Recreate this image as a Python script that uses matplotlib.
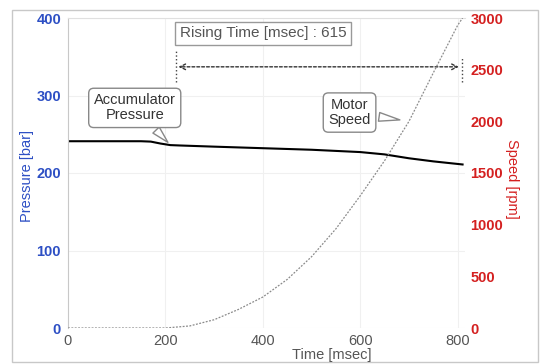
import matplotlib.pyplot as plt
from matplotlib.patches import Rectangle

# data
t_press = [0, 50, 100, 150, 170, 190, 210, 230, 300, 400, 500, 600, 650, 700, 750, 810]
pressure = [241, 241, 241, 241, 240.5, 238, 236, 235.5, 234, 232, 230, 227, 224, 219, 215, 211]

t_speed = [0, 100, 200, 250, 300, 350, 400, 450, 500, 550, 600, 650, 700, 750, 800, 810]
speed = [0, 0, 0, 20, 80, 180, 300, 470, 690, 960, 1280, 1620, 2000, 2470, 2930, 3000]

rise_start, rise_end = 221, 808
rise_label = 'Rising Time [msec] : 615'

blue = '#2d4fc4'
red = '#d42020'
plt.rcParams['font.family'] = ['Liberation Sans', 'DejaVu Sans']

fig = plt.figure(figsize=(5.41, 3.64), dpi=100)
fig.patches.append(Rectangle((12 / 541, 2 / 364), 526 / 541, 352 / 364, transform=fig.transFigure,
                             fill=False, edgecolor='#c8c8c8', lw=1))
ax = fig.add_axes([68 / 541, 1 - 328 / 364, 397 / 541, 310 / 364])
ax2 = ax.twinx()

ax.plot(t_press, pressure, color='black', lw=1.5)
ax2.plot(t_speed, speed, color='#8a8a8a', lw=0.9, linestyle=(0, (1.5, 1.2)))

ax.set_xlim(0, 815)
ax.set_ylim(0, 400)
ax2.set_ylim(0, 3000)
ax.set_xticks([0, 200, 400, 600, 800])
ax.set_yticks([0, 100, 200, 300, 400])
ax2.set_yticks([0, 500, 1000, 1500, 2000, 2500, 3000])

ax.grid(True, color='#f0f0f0', lw=0.8)
ax.set_axisbelow(True)
for a in (ax, ax2):
    for s in a.spines.values():
        s.set_visible(False)
    a.tick_params(length=0)
ax.spines['left'].set_visible(True)
ax.spines['left'].set_color('#c8c8c8')
ax.spines['top'].set_visible(True)
ax.spines['top'].set_color('#e0e0e0')

ax.tick_params(axis='y', colors=blue, labelsize=10.5, pad=5)
ax.tick_params(axis='x', colors='#555555', labelsize=10.5, pad=4)
ax2.tick_params(axis='y', colors=red, labelsize=10.5, pad=4)
for lab in ax.get_yticklabels() + ax2.get_yticklabels():
    lab.set_fontweight('bold')

ax.set_ylabel('Pressure [bar]', color=blue, fontsize=10.5, va='center')
ax.yaxis.set_label_coords(-0.103, 0.49)
ax2.set_ylabel('Speed [rpm]', color=red, fontsize=10.5, rotation=270, va='center')
ax2.yaxis.set_label_coords(1.118, 0.48)
fig.text(332 / 541, 1 - 355 / 364, 'Time [msec]', ha='center', va='center', fontsize=10.5, color='#555555')

# rising time markers
ax.plot([rise_start, rise_start], [318, 360], color='#444444', lw=1, linestyle=':')
ax.plot([rise_end, rise_end], [318, 350], color='#444444', lw=1, linestyle=':')
ax.annotate('', xy=(rise_start, 337), xytext=(rise_end, 337),
            arrowprops=dict(arrowstyle='<->', color='#333333', lw=1, linestyle=(0, (2, 1.5))))
ax.text(230, 380, rise_label, fontsize=11, color='#555555', ha='left', va='center',
        bbox=dict(boxstyle='square,pad=0.3', fc='white', ec='#999999', lw=1))

# callouts
ax.annotate('Accumulator\nPressure', xy=(209, 237), xytext=(137, 284), fontsize=10.5,
            color='#333333', ha='center', va='center', linespacing=1.1,
            bbox=dict(boxstyle='round,pad=0.35', fc='white', ec='#888888', lw=1),
            arrowprops=dict(arrowstyle='wedge,tail_width=0.6', fc='white', ec='#888888', lw=1))
ax.annotate('Motor\nSpeed', xy=(687, 268), xytext=(578, 278), fontsize=10.5,
            color='#333333', ha='center', va='center', linespacing=1.1,
            bbox=dict(boxstyle='round,pad=0.35', fc='white', ec='#888888', lw=1),
            arrowprops=dict(arrowstyle='wedge,tail_width=0.6', fc='white', ec='#888888', lw=1))

plt.savefig('out.png', dpi=100)
plt.close()
